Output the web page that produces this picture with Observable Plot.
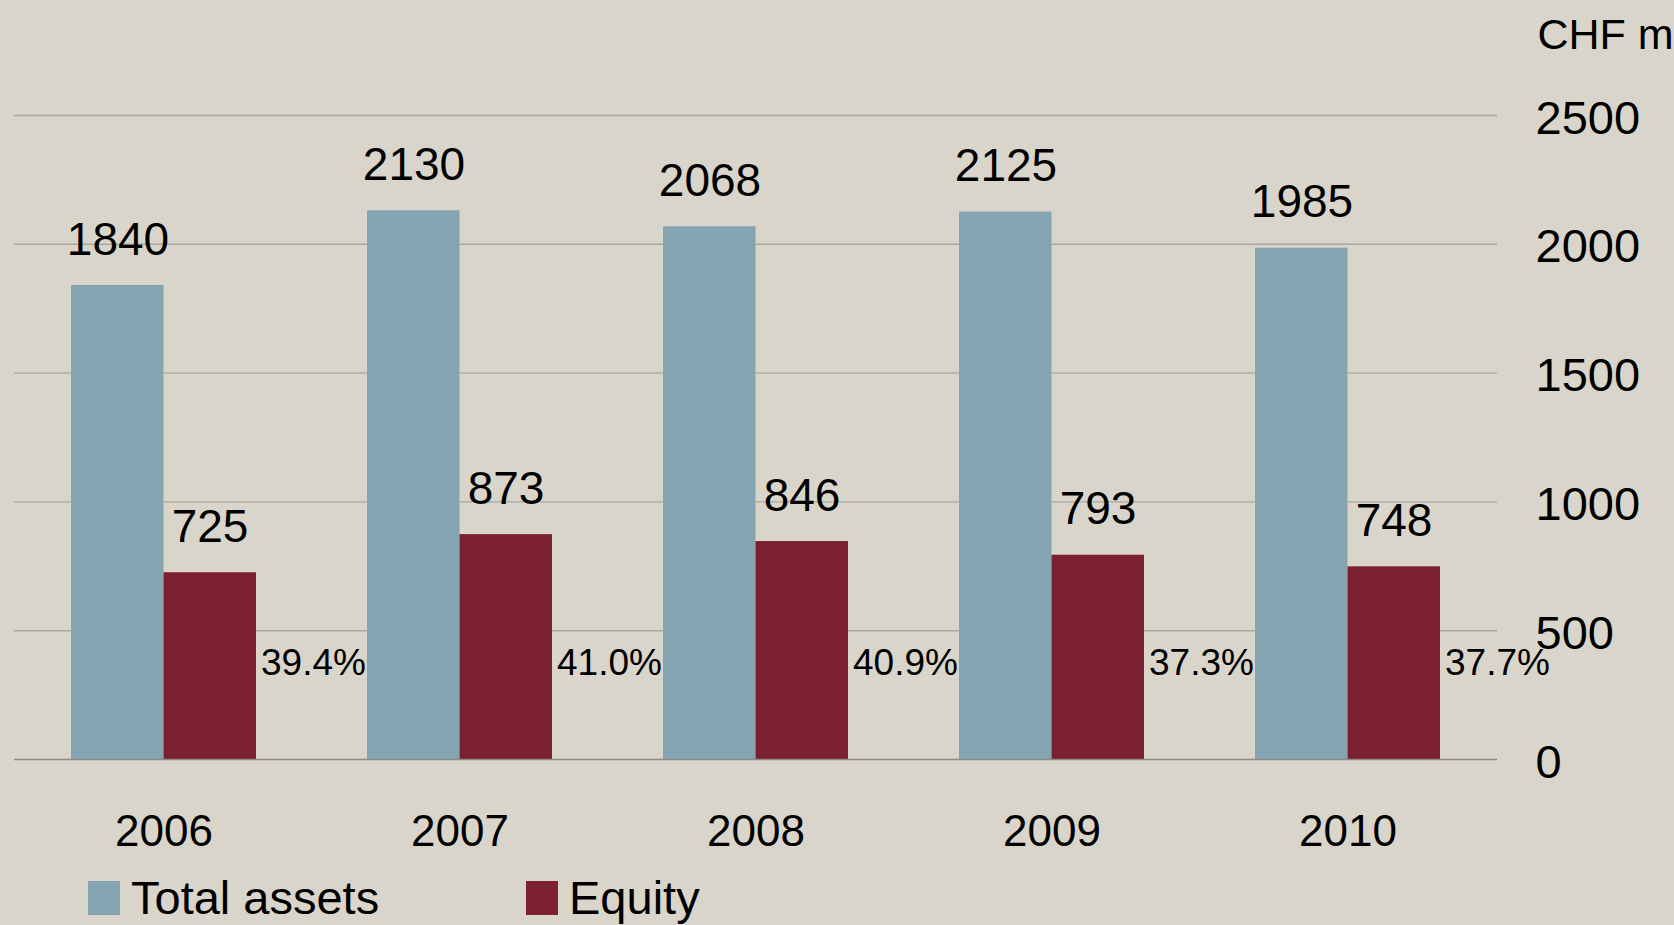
<!DOCTYPE html>
<html>
<head>
<meta charset="utf-8">
<script src="https://cdn.jsdelivr.net/npm/d3@7"></script>
<script src="https://cdn.jsdelivr.net/npm/@observablehq/plot@0.6"></script>
<style>
  html, body { margin: 0; padding: 0; background: #d9d5cb; overflow: hidden; }
  body { width: 1674px; height: 925px; font-family: "Liberation Sans", Arial, sans-serif; }
  #chart svg { display: block; background: #d9d5cb; }
  #legend { position: relative; height: 60px; width: 1674px; }
  .sw { position: absolute; top: 16px; width: 32px; height: 34px; }
  .lt { position: absolute; top: 9px; font-size: 47px; line-height: 48px; color: #000; white-space: nowrap; }
</style>
</head>
<body>
<div id="chart"></div>
<div id="legend">
  <div class="sw" style="left:88px;background:#84a4b2"></div>
  <div class="lt" style="left:131px">Total assets</div>
  <div class="sw" style="left:526px;background:#7b2031"></div>
  <div class="lt" style="left:569px">Equity</div>
</div>
<script>
const years = ["2006", "2007", "2008", "2009", "2010"];
const totalAssets = [1840, 2130, 2068, 2125, 1985];
const equity = [725, 873, 846, 793, 748];
const ratioLabels = ["39.4%", "41.0%", "40.9%", "37.3%", "37.7%"];
const yTicks = [0, 500, 1000, 1500, 2000, 2500];
const unitLabel = "CHF m";

const totalData = years.map((y, i) => ({year: y, value: totalAssets[i]}));
const equityData = years.map((y, i) => ({year: y, value: equity[i]}));
const ratioData = years.map((y, i) => ({year: y, label: ratioLabels[i]}));

const blue = "#84a4b2";
const red = "#7b2031";
const font = "Liberation Sans, Arial, sans-serif";

const half = 92.5;

const chart = Plot.plot({
  width: 1674,
  height: 865,
  marginTop: 115,
  marginBottom: 106,
  marginLeft: 14,
  marginRight: 177,
  style: {background: "#d9d5cb", fontFamily: font, color: "#000"},
  x: {type: "band", domain: years, paddingInner: 0.376, paddingOuter: 0.188, axis: null},
  y: {domain: [0, 2500], axis: null},
  marks: [
    Plot.ruleY(yTicks.filter(d => d > 0), {stroke: "#a8a89b", strokeWidth: 1.4}),
    Plot.barY(totalData, {x: "year", y: "value", fill: blue, insetRight: half}),
    Plot.barY(equityData, {x: "year", y: "value", fill: red, insetLeft: half}),
    Plot.ruleY([0], {stroke: "#8c8b80", strokeWidth: 1.6}),
    Plot.text(totalData, {x: "year", y: "value", text: d => String(d.value), dx: -46, dy: -31, lineAnchor: "bottom", fontSize: 46, fill: "#000"}),
    Plot.text(equityData, {x: "year", y: "value", text: d => String(d.value), dx: 46, dy: -31, lineAnchor: "bottom", fontSize: 46, fill: "#000"}),
    Plot.text(ratioData, {x: "year", y: () => 0, text: "label", dx: 97, dy: -85, textAnchor: "start", lineAnchor: "bottom", fontSize: 37, fill: "#000"}),
    Plot.text(yTicks, {y: d => d, text: d => String(d), frameAnchor: "right", textAnchor: "start", dx: 38, dy: 3, fontSize: 47, fill: "#000"}),
    Plot.text(years, {x: d => d, text: d => d, frameAnchor: "bottom", lineAnchor: "top", dy: 55, fontSize: 44, fill: "#000"}),
    Plot.text([unitLabel], {text: d => d, frameAnchor: "top-right", textAnchor: "start", lineAnchor: "bottom", dx: 40, dy: -67, fontSize: 43, fill: "#000"})
  ]
});
document.getElementById("chart").appendChild(chart);
</script>
</body>
</html>
